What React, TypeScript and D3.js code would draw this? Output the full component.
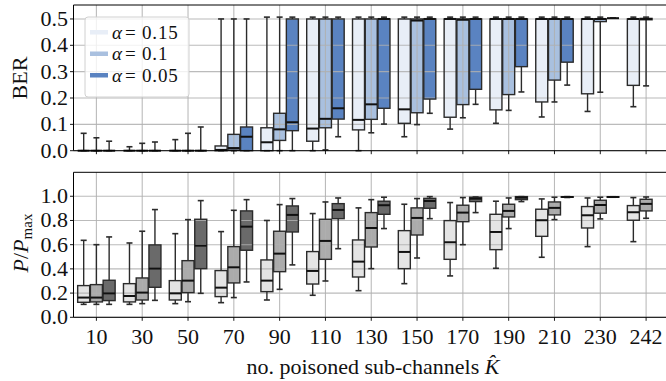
import React from "react";
import * as d3 from "d3";

const categories = ["10", "30", "50", "70", "90", "110", "130", "150", "170", "190", "210", "230", "242"];
const hueLabels = ["0.15", "0.1", "0.05"];

// [low whisker, q1, median, q3, high whisker]
type Stat = [number, number, number, number, number] | null;

const berA015: Stat[] = [
  [0, 0, 0, 0, 0.066], [0, 0, 0, 0, 0.015], [0, 0, 0, 0, 0.042], [0, 0, 0.003, 0.018, 0.5],
  [0, 0, 0.032, 0.087, 0.507], [0, 0.036, 0.084, 0.5, 0.507], [0, 0.079, 0.117, 0.5, 0.507],
  [0.053, 0.104, 0.157, 0.5, 0.507], [0.082, 0.127, 0.5, 0.5, 0.507], [0.104, 0.155, 0.5, 0.5, 0.507],
  [0.128, 0.185, 0.5, 0.5, 0.507], [0.149, 0.216, 0.5, 0.5, 0.507], [0.167, 0.248, 0.5, 0.5, 0.507],
];
const berA010: Stat[] = [
  [0, 0, 0, 0, 0.049], [0, 0, 0, 0, 0.028], [0, 0, 0, 0, 0.066], [0, 0.002, 0.01, 0.062, 0.5],
  [0, 0.039, 0.081, 0.142, 0.507], [0.003, 0.087, 0.121, 0.5, 0.507], [0.068, 0.119, 0.176, 0.5, 0.507],
  [0.099, 0.144, 0.494, 0.5, 0.507], [0.125, 0.175, 0.497, 0.5, 0.507], [0.153, 0.213, 0.5, 0.5, 0.507],
  [0.185, 0.268, 0.5, 0.5, 0.507], [0.222, 0.49, 0.5, 0.5, 0.507], [0.246, 0.497, 0.5, 0.502, 0.507],
];
const berA005: Stat[] = [
  [0, 0, 0, 0, 0.036], [0, 0, 0, 0, 0.033], [0, 0, 0, 0, 0.09], [0, 0, 0.053, 0.09, 0.5],
  [0, 0.076, 0.108, 0.5, 0.507], [0.053, 0.12, 0.161, 0.5, 0.507], [0.101, 0.161, 0.5, 0.5, 0.507],
  [0.142, 0.196, 0.5, 0.5, 0.507], [0.176, 0.233, 0.5, 0.5, 0.507], [0.223, 0.319, 0.5, 0.5, 0.507],
  [0.249, 0.336, 0.5, 0.5, 0.507], [0.503, 0.503, 0.503, 0.503, 0.503], null,
];

const powA015: Stat[] = [
  [0.107, 0.124, 0.163, 0.262, 0.636], [0.107, 0.127, 0.176, 0.278, 0.614], [0.113, 0.143, 0.198, 0.303, 0.691],
  [0.121, 0.171, 0.245, 0.386, 0.708], [0.143, 0.212, 0.303, 0.474, 0.8], [0.182, 0.275, 0.383, 0.543, 0.857],
  [0.22, 0.333, 0.46, 0.639, 0.904], [0.278, 0.402, 0.54, 0.716, 0.934], [0.342, 0.479, 0.62, 0.799, 0.948],
  [0.405, 0.559, 0.705, 0.851, 0.959], [0.496, 0.669, 0.802, 0.893, 0.978], [0.584, 0.738, 0.843, 0.915, 0.986],
  [0.625, 0.802, 0.868, 0.923, 0.989],
];
const powA010: Stat[] = [
  [0.107, 0.127, 0.163, 0.27, 0.6], [0.113, 0.143, 0.204, 0.325, 0.711], [0.129, 0.204, 0.303, 0.468, 0.807],
  [0.163, 0.284, 0.413, 0.584, 0.884], [0.231, 0.377, 0.526, 0.711, 0.931], [0.3, 0.479, 0.631, 0.81, 0.953],
  [0.402, 0.581, 0.738, 0.865, 0.972], [0.49, 0.68, 0.821, 0.904, 0.981], [0.6, 0.79, 0.865, 0.926, 0.989],
  [0.733, 0.829, 0.879, 0.934, 0.986], [0.807, 0.846, 0.904, 0.953, 0.992], [0.813, 0.86, 0.928, 0.967, 0.992],
  [0.818, 0.879, 0.937, 0.975, 0.994],
];
const powA005: Stat[] = [
  [0.107, 0.138, 0.198, 0.306, 0.664], [0.14, 0.248, 0.402, 0.598, 0.89], [0.198, 0.402, 0.592, 0.81, 0.964],
  [0.292, 0.554, 0.749, 0.879, 0.972], [0.433, 0.705, 0.846, 0.92, 0.981], [0.567, 0.815, 0.887, 0.939, 0.986],
  [0.733, 0.851, 0.926, 0.959, 0.992], [0.815, 0.901, 0.961, 0.983, 0.997], [0.865, 0.956, 0.98, 0.992, 0.994],
  [0.956, 0.972, 0.989, 0.997, 0.997], [0.99, 0.992, 0.994, 0.996, 0.997], [0.992, 0.993, 0.994, 0.995, 0.996],
  null,
];

const berTicks = [0, 0.1, 0.2, 0.3, 0.4, 0.5];
const powTicks = [0, 0.2, 0.4, 0.6, 0.8, 1.0];

const blueColors = ["#e8eef7", "#a9c0df", "#5a83c1"];
const greyColors = ["#e4e4e4", "#ababab", "#6a6a6a"];

const FONT = "'Liberation Serif', 'DejaVu Serif', serif";
const FS = 22;
const LFS = 19;

const x = d3.scaleLinear().domain([-0.5, 12.5]).range([73.5, 669]);
const yTop = d3.scaleLinear().domain([0, 0.553]).range([150.7, 5]);
const yBot = d3.scaleLinear().domain([0, 1.198]).range([317.3, 172.3]);

const OFF = 0.278;
const BW = 0.262;

function Panel({ y, series, colors, ticks, fmt }: any) {
  const [y0, y1] = y.range();
  const left = x.range()[0];
  const right = x.range()[1];
  const pxW = x(BW) - x(0);
  const boxes: any[] = [];
  series.forEach((s: Stat[], h: number) => {
    s.forEach((st, i) => {
      if (!st) return;
      const cx = x(i + (h - 1) * OFF);
      boxes.push({ st, cx, h, i });
    });
  });
  return (
    <g>
      {boxes.map((b, k) => (
        <rect key={"f" + k} x={b.cx - pxW / 2} y={y(b.st[3])} width={pxW}
          height={Math.max(0, y(b.st[1]) - y(b.st[3]))} fill={colors[b.h]} />
      ))}
      {categories.map((c, i) => (
        <line key={"gx" + i} x1={x(i)} x2={x(i)} y1={y0} y2={y1} stroke="#b0b0b0" strokeWidth={1.1} opacity={0.85} />
      ))}
      {ticks.map((t: number, i: number) => (
        <line key={"gy" + i} x1={left} x2={right} y1={y(t)} y2={y(t)} stroke="#b0b0b0" strokeWidth={1.1} opacity={0.85} />
      ))}
      {boxes.map((b, k) => {
        const [lo, q1, md, q3, hi] = b.st;
        const cw = pxW / 2;
        return (
          <g key={"b" + k} stroke="#2b2b2b" strokeWidth={1.4} fill="none">
            <line x1={b.cx} x2={b.cx} y1={y(q3)} y2={y(hi)} />
            <line x1={b.cx} x2={b.cx} y1={y(q1)} y2={y(lo)} />
            <line x1={b.cx - cw / 2} x2={b.cx + cw / 2} y1={y(hi)} y2={y(hi)} strokeWidth={1.6} />
            <line x1={b.cx - cw / 2} x2={b.cx + cw / 2} y1={y(lo)} y2={y(lo)} strokeWidth={1.6} />
            <rect x={b.cx - pxW / 2} y={y(q3)} width={pxW} height={Math.max(0, y(q1) - y(q3))} />
            <line x1={b.cx - pxW / 2} x2={b.cx + pxW / 2} y1={y(md)} y2={y(md)} stroke="#111" strokeWidth={2} />
          </g>
        );
      })}
      <line x1={left} x2={left} y1={y0} y2={y1} stroke="#000" strokeWidth={1} />
      <line x1={left} x2={right} y1={y1} y2={y1} stroke="#000" strokeWidth={1} />
      <line x1={left} x2={right} y1={y0} y2={y0} stroke="#000" strokeWidth={1} />
      {categories.map((c, i) => (
        <line key={"tx" + i} x1={x(i)} x2={x(i)} y1={y0} y2={y0 + 3.5} stroke="#000" strokeWidth={0.9} />
      ))}
      {ticks.map((t: number, i: number) => (
        <g key={"ty" + i}>
          <line x1={left - 3.5} x2={left} y1={y(t)} y2={y(t)} stroke="#000" strokeWidth={0.9} />
          <text x={left - 5.5} y={y(t) + 7} textAnchor="end" fontFamily={FONT} fontSize={FS} fill="#111">{fmt(t)}</text>
        </g>
      ))}
    </g>
  );
}

export default function App() {
  const fmt = d3.format(".1f");
  return (
    <svg width={666} height={381} style={{ position: "absolute", left: 0, top: 0, background: "#fff" }}>
      <rect width={666} height={381} fill="#fff" />
      <Panel y={yTop} series={[berA015, berA010, berA005]} colors={blueColors} ticks={berTicks} fmt={fmt} />
      <Panel y={yBot} series={[powA015, powA010, powA005]} colors={greyColors} ticks={powTicks} fmt={fmt} />

      <g>
        <rect x={85} y={17} width={104} height={80} rx={3} fill="#fff" fillOpacity={0.8} stroke="#d0d0d0" strokeWidth={1} />
        {hueLabels.map((l, i) => (
          <g key={"lg" + i}>
            <rect x={90} y={30 + i * 21.5} width={18} height={4.5} fill={blueColors[i]} />
            <text x={112} y={38.5 + i * 21.5} fontFamily={FONT} fontSize={LFS} fontStyle="italic" fill="#111">α</text>
            <text x={125} y={38.5 + i * 21.5} fontFamily={FONT} fontSize={LFS} fill="#111" letterSpacing={0.8}>{"= " + l}</text>
          </g>
        ))}
      </g>

      <text transform="translate(27,78) rotate(-90)" textAnchor="middle" fontFamily={FONT} fontSize={FS} fill="#111">BER</text>
      <text transform="translate(28,243) rotate(-90)" textAnchor="middle" fontFamily={FONT} fontSize={FS} fill="#111">
        <tspan fontStyle="italic">P</tspan>
        <tspan>/</tspan>
        <tspan fontStyle="italic">P</tspan>
        <tspan fontSize={15} dy={4}>max</tspan>
      </text>

      {categories.map((c, i) => (
        <text key={"xl" + i} x={x(i)} y={344} textAnchor="middle" fontFamily={FONT} fontSize={FS} fill="#111">{c}</text>
      ))}
      <text x={373} y={374} textAnchor="middle" fontFamily={FONT} fontSize={FS} fill="#111">
        <tspan>no. poisoned sub-channels </tspan>
        <tspan fontStyle="italic">{"K\u0302"}</tspan>
      </text>
    </svg>
  );
}
